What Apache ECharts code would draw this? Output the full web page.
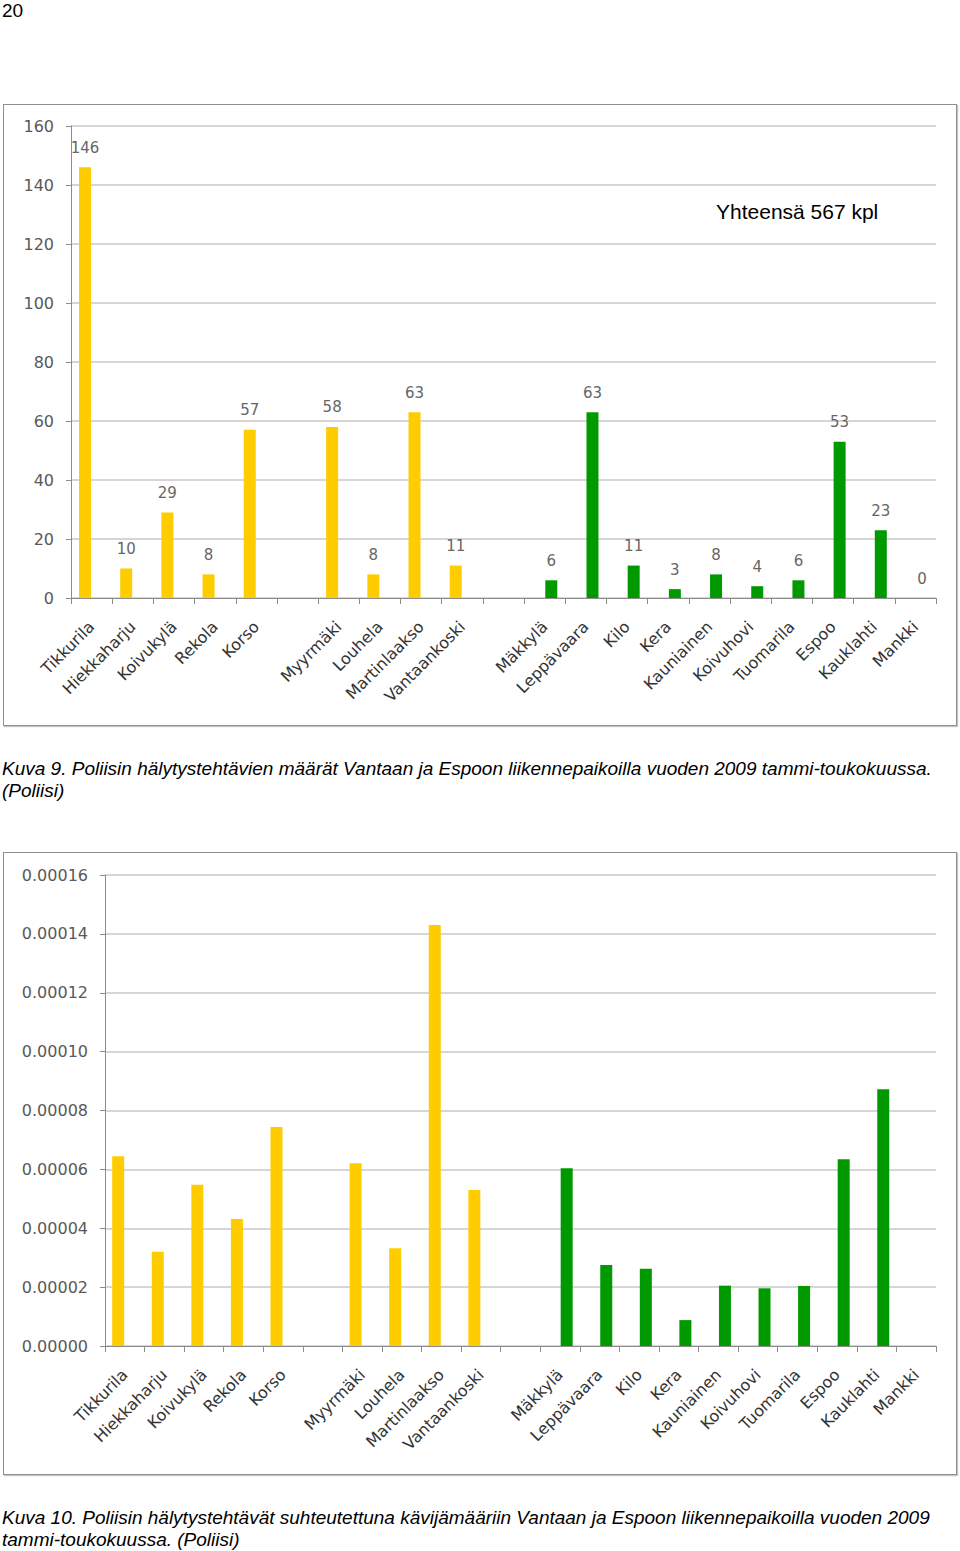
<!DOCTYPE html>
<html>
<head>
<meta charset="utf-8">
<script src="https://cdn.jsdelivr.net/npm/echarts@6/dist/echarts.min.js"></script>
<style>
  html, body { margin: 0; padding: 0; background: #fff; }
  body { width: 960px; height: 1551px; position: relative; overflow: hidden; }
  .frame { position: absolute; box-sizing: border-box; border: 1px solid #8f8f8f; box-shadow: 1px 1px 1px #c4c4c4; }
  .chart { position: absolute; left: 0; width: 960px; }
  .txt { position: absolute; font-family: "Liberation Sans", Arial, sans-serif; color: #000; white-space: nowrap; }
  .cap { font-style: italic; font-size: 19px; line-height: 22px; left: 2px; }
</style>
</head>
<body>
<div class="txt" style="left:2px;top:0px;font-size:19px;line-height:22px;">20</div>

<div class="frame" style="left:3px;top:104px;width:954px;height:622px;"></div>
<div id="c1" class="chart" style="top:104px;height:622px;"></div>
<div class="txt cap" style="top:758px;">Kuva 9. Poliisin hälytystehtävien määrät Vantaan ja Espoon liikennepaikoilla vuoden 2009 tammi-toukokuussa.<br>(Poliisi)</div>

<div class="frame" style="left:3px;top:852px;width:954px;height:623px;"></div>
<div id="c2" class="chart" style="top:852px;height:623px;"></div>
<div class="txt cap" style="top:1507px;">Kuva 10. Poliisin hälytystehtävät suhteutettuna kävijämääriin Vantaan ja Espoon liikennepaikoilla vuoden 2009<br>tammi-toukokuussa. (Poliisi)</div>

<script>
// ---- data ----
const categories = ['Tikkurila','Hiekkaharju','Koivukylä','Rekola','Korso','','Myyrmäki','Louhela','Martinlaakso','Vantaankoski','','Mäkkylä','Leppävaara','Kilo','Kera','Kauniainen','Koivuhovi','Tuomarila','Espoo','Kauklahti','Mankki'];

// Figure 9: counts (null = no bar in this slot)
const vantaaCounts = [146, 10, 29, 8, 57, null, 58, 8, 63, 11, null, null, null, null, null, null, null, null, null, null, null];
const espooCounts  = [null, null, null, null, null, null, null, null, null, null, null, 6, 63, 11, 3, 8, 4, 6, 53, 23, 0];

// Figure 10: counts relative to visitor numbers
const vantaaRatio = [0.0000645, 0.0000320, 0.0000548, 0.0000431, 0.0000744, null, 0.0000621, 0.0000332, 0.0001430, 0.0000530, null, null, null, null, null, null, null, null, null, null, null];
const espooRatio  = [null, null, null, null, null, null, null, null, null, null, null, 0.0000604, 0.0000275, 0.0000262, 0.0000088, 0.0000205, 0.0000196, 0.0000204, 0.0000634, 0.0000872, 0];

const countTicks = { min: 0, max: 160, interval: 20 };
const ratioTicks = { min: 0, max: 0.00016, interval: 0.00002 };
const totalText = 'Yhteensä 567 kpl';

// ---- styles ----
const YELLOW = '#ffcc00';
const GREEN = '#009a00';
const FONT = 'DejaVu Sans';

function baseOption(grid, ticks, yFmt) {
  return {
    animation: false,
    grid: grid,
    xAxis: {
      type: 'category',
      data: categories,
      boundaryGap: true,
      axisLine: { show: true, lineStyle: { color: '#8c8c8c', width: 1 } },
      axisTick: { show: true, length: 6, interval: 0, lineStyle: { color: '#8c8c8c' } },
      axisLabel: {
        interval: 0, rotate: 45, margin: 26,
        fontFamily: FONT, fontSize: 16, color: '#333333'
      }
    },
    yAxis: {
      type: 'value',
      min: ticks.min, max: ticks.max, interval: ticks.interval,
      axisLine: { show: true, lineStyle: { color: '#8c8c8c', width: 1 } },
      axisTick: { show: true, length: 5, lineStyle: { color: '#8c8c8c' } },
      splitLine: { show: true, lineStyle: { color: '#d6d6d6', width: 2 } },
      axisLabel: {
        margin: 17, fontFamily: FONT, fontSize: 16, color: '#595959',
        formatter: yFmt
      }
    }
  };
}

// Chart 1
const c1 = echarts.init(document.getElementById('c1'), null, { renderer: 'svg' });
const opt1 = baseOption({ left: 71, right: 24, top: 22, bottom: 128 }, countTicks, v => String(v));
const lbl = { show: true, position: 'top', distance: 12, fontFamily: FONT, fontSize: 15, color: '#666666' };
opt1.series = [
  { type: 'bar', data: vantaaCounts, barWidth: 12, barGap: '10%', itemStyle: { color: YELLOW }, label: lbl },
  { type: 'bar', data: espooCounts, barWidth: 12, barGap: '10%', itemStyle: { color: GREEN }, label: lbl }
];
opt1.graphic = [{
  type: 'text', left: 716, top: 97,
  style: { text: totalText, fontFamily: 'Liberation Sans', fontSize: 21, fill: '#000' }
}];
c1.setOption(opt1);

// Chart 2
const c2 = echarts.init(document.getElementById('c2'), null, { renderer: 'svg' });
const opt2 = baseOption({ left: 105, right: 24, top: 23, bottom: 129 }, ratioTicks, v => v.toFixed(5));
opt2.series = [
  { type: 'bar', data: vantaaRatio, barWidth: 12, barGap: '10%', itemStyle: { color: YELLOW } },
  { type: 'bar', data: espooRatio, barWidth: 12, barGap: '10%', itemStyle: { color: GREEN } }
];
c2.setOption(opt2);
</script>
</body>
</html>
